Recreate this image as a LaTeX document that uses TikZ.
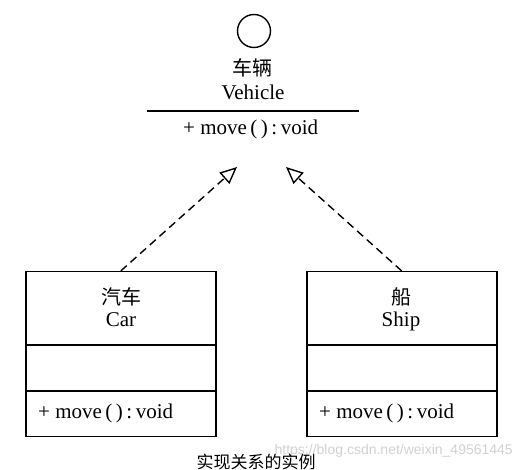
\documentclass[tikz,border=0pt]{standalone}
\usepackage{fontspec}
\setmainfont{Liberation Serif}
\newfontfamily\cjk{Noto Sans CJK SC}
\newfontfamily\wmfont{Liberation Sans}
\usetikzlibrary{arrows.meta}
\newcommand{\moveop}{+ move\,(\,)\,:\,void}
\tikzset{
  umlbox/.style={draw, line width=1.5pt, minimum width=190pt, minimum height=165pt, anchor=north west, inner sep=0pt},
  divider/.style={line width=1.5pt},
  lat/.style={font=\fontsize{21}{23}\selectfont, inner sep=0pt},
  han/.style={font=\cjk\fontsize{20}{22}\selectfont, inner sep=0pt},
  realize/.style={line width=1.4pt, dash pattern=on 8pt off 5pt, -{Triangle[open, length=17pt, width=15pt, line width=1.4pt]}}
}
\begin{document}
\begin{tikzpicture}[x=1pt, y=-1pt]
\useasboundingbox (0,0) rectangle (531,470);
% Interface Vehicle
\node[draw, circle, line width=1.4pt, minimum size=33pt, inner sep=0pt] (icon) at (254,31) {};
\node[han] (vname) at (252,68) {车辆};
\node[lat] (vename) at (253,92) {Vehicle};
\coordinate (lineL) at (147,111);
\coordinate (lineR) at (359,111);
\draw[divider] (lineL) -- (lineR);
\node[lat, anchor=west] (vop) at (183,129) {\moveop};
\coordinate (tipL) at (237,167);
\coordinate (tipR) at (286,167);
% Car
\node[umlbox] (car) at (25,271) {};
\draw[divider] ([yshift=-74pt]car.north west) -- ([yshift=-74pt]car.north east);
\draw[divider] ([yshift=-120pt]car.north west) -- ([yshift=-120pt]car.north east);
\node[han] (carcn) at (121,297) {汽车};
\node[lat] (caren) at (121,320) {Car};
\node[lat, anchor=west] (carop) at (38,413) {\moveop};
% Ship
\node[umlbox] (ship) at (306,271) {};
\draw[divider] ([yshift=-74pt]ship.north west) -- ([yshift=-74pt]ship.north east);
\draw[divider] ([yshift=-120pt]ship.north west) -- ([yshift=-120pt]ship.north east);
\node[han] (shipcn) at (401,297) {船};
\node[lat] (shipen) at (401,321) {Ship};
\node[lat, anchor=west] (shipop) at (319,413) {\moveop};
% Realization arrows
\draw[realize] (car.north) -- (tipL);
\draw[realize] (ship.north) -- (tipR);
% Watermark and caption
\node[font=\wmfont\fontsize{14}{16}\selectfont, text=black!18, anchor=east, inner sep=0pt] (wm) at (513,451) {https://blog.csdn.net/weixin\_49561445};
\node[font=\cjk\fontsize{17}{19}\selectfont, inner sep=0pt] (cap) at (256,462) {实现关系的实例};
\end{tikzpicture}
\end{document}
